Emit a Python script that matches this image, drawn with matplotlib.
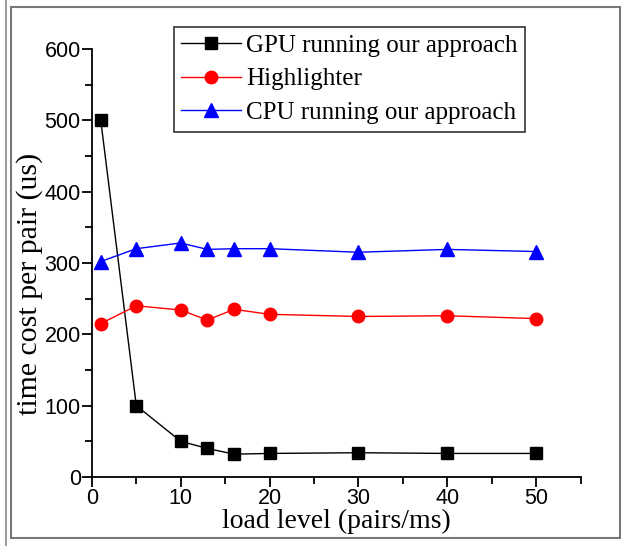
import matplotlib.pyplot as plt
from matplotlib.lines import Line2D
from matplotlib.patches import Rectangle
from matplotlib.ticker import MultipleLocator

# data
load = [1, 5, 10, 13, 16, 20, 30, 40, 50]
gpu = [500, 100, 50, 40, 32, 33, 34, 33, 33]
highlighter = [215, 240, 234, 220, 235, 228, 225, 226, 222]
cpu = [302, 320, 328, 319, 320, 320, 315, 319, 316]

serif = ['Liberation Serif', 'DejaVu Serif']
sans = ['Liberation Sans', 'DejaVu Sans']

fig = plt.figure(figsize=(6.25, 5.46), dpi=100)
ax = fig.add_axes([0.147, 0.1264, 0.782, 0.784])

ax.plot(load, gpu, color='black', lw=1, marker='s', ms=8,
        label='GPU running our approach')
ax.plot(load, highlighter, color='red', lw=1, marker='o', ms=9,
        label='Highlighter')
ax.plot(load, cpu, color='blue', lw=1, marker='^', ms=9.5,
        label='CPU running our approach')

ax.set_xlim(0, 55)
ax.set_ylim(0, 600)
ax.xaxis.set_major_locator(MultipleLocator(10))
ax.xaxis.set_minor_locator(MultipleLocator(5))
ax.yaxis.set_major_locator(MultipleLocator(100))
ax.yaxis.set_minor_locator(MultipleLocator(50))
ax.spines['top'].set_visible(False)
ax.spines['right'].set_visible(False)
for s in ['left', 'bottom']:
    ax.spines[s].set_linewidth(1.3)
ax.tick_params(which='major', direction='out', length=7, width=1.3, labelsize=15.5, pad=1)
ax.tick_params(which='minor', direction='out', length=5, width=1.3)
for lab in ax.get_xticklabels() + ax.get_yticklabels():
    lab.set_family(sans)

ax.set_xlabel('load level (pairs/ms)', family=serif, fontsize=20, labelpad=0)
ax.set_ylabel('time cost per pair (us)', family=serif, fontsize=21.5)
ax.yaxis.set_label_coords(-0.1, 0.451)

leg = ax.legend(loc='upper center', bbox_to_anchor=(0.527, 1.052), frameon=True,
                fancybox=False, edgecolor='black', prop={'family': serif, 'size': 18},
                handlelength=2.4, handletextpad=0.2, borderpad=0.3, labelspacing=0.45,
                borderaxespad=0)
leg.get_frame().set_linewidth(1.2)

# outer frame like the original figure
fig.patches.append(Rectangle((11 / 625, 1 - 538 / 546), 609 / 625, 531 / 546,
                             transform=fig.transFigure, fill=False,
                             edgecolor='#777777', lw=1.5))
fig.lines.append(Line2D([6 / 625, 6 / 625], [0, 1], transform=fig.transFigure,
                        color='#888888', lw=1.2))

fig.savefig('out.png', dpi=100)
